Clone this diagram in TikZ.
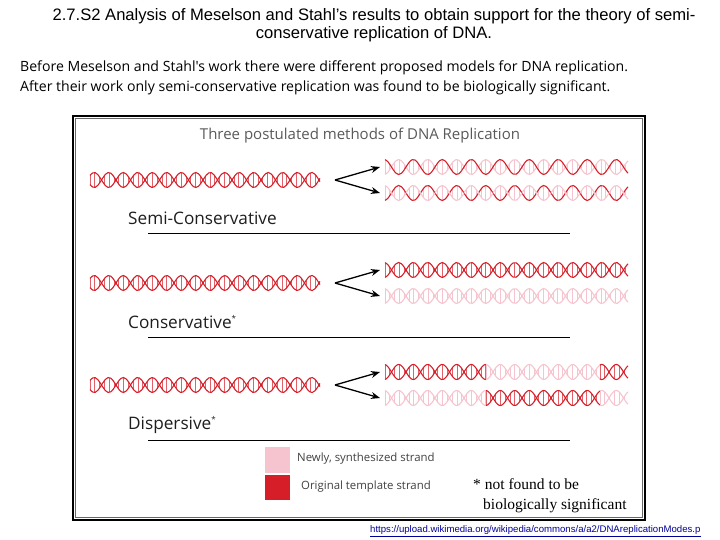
\documentclass[tikz,border=0pt]{standalone}
\usepackage{fontspec}
\setmainfont{Liberation Sans}
\newfontfamily\osans{Open Sans}
\newfontfamily\tserif{Liberation Serif}
\usetikzlibrary{arrows.meta}
\definecolor{dred}{RGB}{214,30,40}
\definecolor{dpink}{RGB}{246,196,206}
\definecolor{lbl}{RGB}{30,30,30}
\newcommand{\hstrand}[5]{% x1 x2 y0 sign color
  \draw[#5,line width=1.1pt,domain=#1:#2,samples=90,smooth] plot (\x,{#3+#4*7.5*sin(12.4138*\x)});}
\newcommand{\hrungs}[4]{% x1 x2 y0 color
  \pgfmathtruncatemacro\nrung{(#2-#1)/4.8}
  \foreach \k in {0,...,\nrung}{\pgfmathsetmacro\rx{#1+4.8*\k}\draw[#4,line width=0.7pt] (\rx,{#3+7.5*sin(12.4138*\rx)}) -- (\rx,{#3-7.5*sin(12.4138*\rx)});}}
\newcommand{\hel}[6]{% x1 x2 y0 colA colB rungcol
  \hrungs{#1}{#2}{#3}{#6}\hstrand{#1}{#2}{#3}{1}{#4}\hstrand{#1}{#2}{#3}{-1}{#5}}
\tikzset{lab/.style={font=\osans\fontsize{17.2}{19}\selectfont,text=lbl,anchor=west,inner sep=0},
  arr/.style={-{Stealth[length=9pt,width=7pt]},line width=1.3pt},
  leg/.style={anchor=west,inner sep=0,font=\osans\fontsize{11.4}{13}\selectfont,text=black!75},
  rule/.style={line width=1pt}}
\begin{document}
\begin{tikzpicture}[x=1pt,y=-1pt]
\useasboundingbox (0,0) rectangle (720,540);
\node[font=\fontsize{16.6}{18}\selectfont,align=center,inner sep=0] (title) at (374,25) {2.7.S2 Analysis of Meselson and Stahl's results to obtain support for the theory of semi-\\conservative replication of DNA.};
\node[font=\osans\fontsize{14.1}{20}\selectfont,align=left,anchor=west,inner sep=0] (intro) at (20,78) {Before Meselson and Stahl's work there were different proposed models for DNA replication.\\After their work only semi-conservative replication was found to be biologically significant.};
\draw[line width=1.2pt] (73,116) rectangle (645,520);
\draw[line width=0.5pt,black!60] (75.5,118.5) rectangle (642.5,517.5);
\node[font=\osans\fontsize{15}{17}\selectfont,text=black!65,inner sep=0] (head) at (360,136) {Three postulated methods of DNA Replication};
% Semi-conservative
\hel{90}{320}{180}{dred}{dred}{dred!70}
\coordinate (s0) at (335,180);
\coordinate (s1) at (380,167); \coordinate (s2) at (380,193);
\draw[arr] (s0) -- (s1); \draw[arr] (s0) -- (s2);
\hel{385}{628}{167}{dpink}{dred}{dpink}
\hel{385}{628}{193}{dred}{dpink}{dpink}
\node[lab] (l1) at (128,218) {Semi-Conservative};
\draw[rule] (148,233) -- (570,233);
% Conservative
\hel{90}{320}{283}{dred}{dred}{dred!70}
\coordinate (c0) at (335,283);
\coordinate (c1) at (380,270); \coordinate (c2) at (380,296);
\draw[arr] (c0) -- (c1); \draw[arr] (c0) -- (c2);
\hel{385}{628}{270}{dred}{dred}{dred!70}
\hel{385}{628}{296}{dpink}{dpink}{dpink}
\node[lab] (l2) at (128,322) {Conservative\textsuperscript{\footnotesize *}};
\draw[rule] (148,337) -- (570,337);
% Dispersive
\hel{90}{320}{385}{dred}{dred}{dred!70}
\coordinate (d0) at (335,385);
\coordinate (d1) at (380,372); \coordinate (d2) at (380,398);
\draw[arr] (d0) -- (d1); \draw[arr] (d0) -- (d2);
\hel{385}{486}{372}{dred}{dred}{dred!70}
\hel{486}{600}{372}{dpink}{dpink}{dpink}
\hel{600}{628}{372}{dred}{dred}{dred!70}
\hel{385}{486}{398}{dpink}{dpink}{dpink}
\hel{486}{600}{398}{dred}{dred}{dred!70}
\hel{600}{628}{398}{dpink}{dpink}{dpink}
\node[lab] (l3) at (128,425) {Dispersive\textsuperscript{\footnotesize *}};
\draw[rule] (148,440) -- (570,440);
% legend
\fill[dpink] (265,447) rectangle (290,473);
\fill[dred] (265,475) rectangle (290,500);
\node[leg] (n1) at (297,459) {Newly, synthesized strand};
\node[leg] (n2) at (301,487) {Original template strand};
\node[font=\tserif\fontsize{15.5}{20}\selectfont,align=left,anchor=north west,inner sep=0] (nf) at (473,478) {* not found to be\\\hspace*{10pt}biologically significant};
\node[font=\fontsize{9.6}{11}\selectfont,text=blue!60!black,anchor=west,inner sep=0] (url) at (370,531) {\underline{https://upload.wikimedia.org/wikipedia/commons/a/a2/DNAreplicationModes.p}};
\end{tikzpicture}
\end{document}
